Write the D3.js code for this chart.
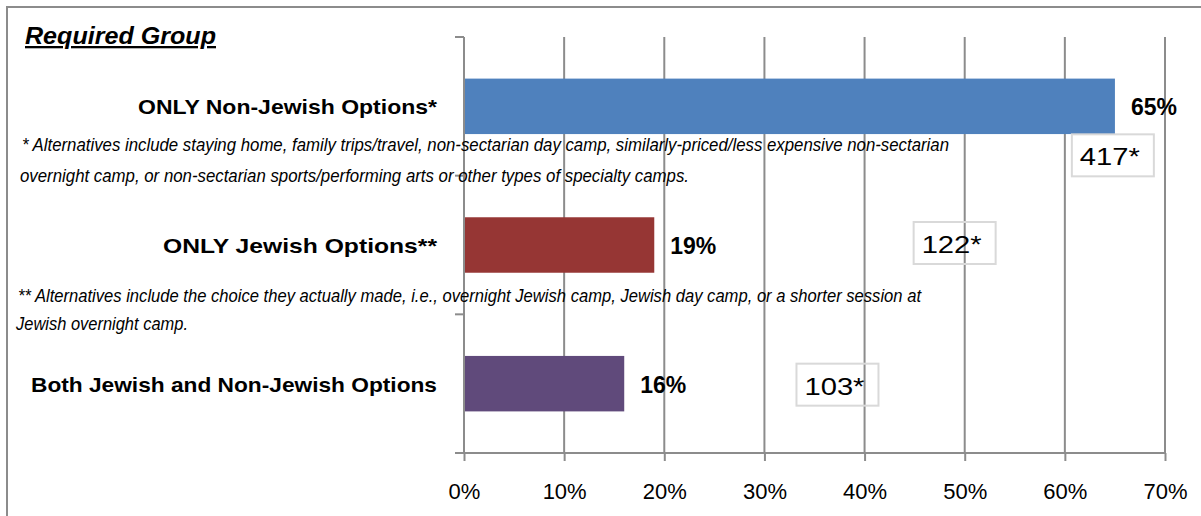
<!DOCTYPE html>
<html>
<head>
<meta charset="utf-8">
<script src="https://cdn.jsdelivr.net/npm/d3@7"></script>
<style>
  html, body { margin: 0; padding: 0; background: #fff; }
  svg { display: block; }
</style>
</head>
<body>
<svg id="chart" width="1201" height="516"></svg>
<script>
const categories = ["ONLY Non-Jewish Options*", "ONLY Jewish Options**", "Both Jewish and Non-Jewish Options"];
const values = [65, 19, 16];
const counts = ["417*", "122*", "103*"];
const barColors = ["#4F81BD", "#963634", "#604A7B"];
const xTicks = [0, 10, 20, 30, 40, 50, 60, 70];
const title = "Required Group";
const footnote1 = ["* Alternatives include staying home, family trips/travel, non-sectarian day camp, similarly-priced/less expensive non-sectarian",
                   "overnight camp, or non-sectarian sports/performing arts or other types of specialty camps."];
const footnote2 = ["** Alternatives include the choice they actually made, i.e., overnight Jewish camp, Jewish day camp, or a shorter session at",
                   "Jewish overnight camp."];
// count box x positions (in % units on the value axis) as placed in the reference
const countBoxAt = [60.7, 44.9, 33.2];

(function () {
const svg = d3.select("#chart");
const font = "'Liberation Sans', Arial, sans-serif";

// outer frame
svg.append("path").attr("d", "M7,520 L7,7 L1210,7").attr("fill", "none")
  .attr("stroke", "#8c8c8c").attr("stroke-width", 2);

const pLeft = 464, pRight = 1165, pTop = 37, pBottom = 453;
const x = d3.scaleLinear().domain([0, 70]).range([pLeft, pRight]);
const y = d3.scaleBand().domain(categories).range([pTop, pBottom]).paddingInner(0.6).paddingOuter(0.3);
const yb = d3.scaleBand().domain(categories).range([pTop, pBottom]);

// gridlines
svg.append("g").selectAll("line").data(xTicks.filter(d => d > 0)).join("line")
  .attr("x1", d => x(d)).attr("x2", d => x(d)).attr("y1", pTop).attr("y2", pBottom)
  .attr("stroke", "#8c8c8c").attr("stroke-width", 2);

// x axis
const xAxis = svg.append("g").attr("transform", `translate(0,${pBottom})`)
  .call(d3.axisBottom(x).tickValues(xTicks).tickFormat(d => d + "%").tickSize(8).tickPadding(22).tickSizeOuter(0));
xAxis.select(".domain").attr("stroke", "#8c8c8c").attr("stroke-width", 2).attr("d", `M${pLeft - 9},0H${pRight}`);
xAxis.selectAll(".tick line").attr("stroke", "#8c8c8c").attr("stroke-width", 2);
xAxis.selectAll(".tick text").attr("font-family", font).attr("font-size", 22).attr("fill", "#000");

// y axis line and ticks at band boundaries
svg.append("line").attr("x1", pLeft).attr("x2", pLeft).attr("y1", pTop).attr("y2", pBottom)
  .attr("stroke", "#8c8c8c").attr("stroke-width", 2);
const bounds = categories.map(c => yb(c));
svg.append("g").selectAll("line").data(bounds).join("line")
  .attr("x1", pLeft - 9).attr("x2", pLeft).attr("y1", d => d).attr("y2", d => d)
  .attr("stroke", "#8c8c8c").attr("stroke-width", 2);

// bars
svg.append("g").selectAll("rect").data(values).join("rect")
  .attr("x", x(0) + 1).attr("y", (d, i) => y(categories[i]))
  .attr("width", d => x(d) - x(0) - 1).attr("height", y.bandwidth())
  .attr("fill", (d, i) => barColors[i]);

// value labels
svg.append("g").selectAll("text").data(values).join("text")
  .attr("x", d => x(d) + 16).attr("y", (d, i) => y(categories[i]) + y.bandwidth() / 2 + 9)
  .attr("font-family", font).attr("font-weight", "bold").attr("font-size", 23).attr("fill", "#000")
  .text(d => d + "%");

// category labels
const catWidths = [299, 274, 406];
svg.append("g").selectAll("text").data(categories).join("text")
  .attr("x", 437).attr("y", d => y(d) + y.bandwidth() / 2 + 8)
  .attr("text-anchor", "end")
  .attr("font-family", font).attr("font-weight", "bold").attr("font-size", 21).attr("fill", "#000")
  .attr("textLength", (d, i) => catWidths[i]).attr("lengthAdjust", "spacingAndGlyphs")
  .text(d => d);

// count boxes
const boxTops = [28, -23, -20];
const cg = svg.append("g").selectAll("g").data(counts).join("g")
  .attr("transform", (d, i) => `translate(${x(countBoxAt[i])},${y(categories[i]) + y.bandwidth() / 2 + boxTops[i]})`);
cg.append("rect").attr("width", 82).attr("height", 42).attr("fill", "none")
  .attr("stroke", "#d9d9d9").attr("stroke-width", 2);
cg.append("text").attr("x", 8).attr("y", 31)
  .attr("font-family", font).attr("font-size", 23).attr("fill", "#000")
  .attr("textLength", 60).attr("lengthAdjust", "spacingAndGlyphs").text(d => d);

// title
svg.append("text").attr("x", 25).attr("y", 44)
  .attr("font-family", font).attr("font-weight", "bold").attr("font-style", "italic")
  .attr("font-size", 23).attr("text-decoration", "underline").attr("fill", "#000")
  .attr("textLength", 191).attr("lengthAdjust", "spacingAndGlyphs")
  .text(title);

// footnotes
const fn = [
  { t: footnote1[0], x: 22, y: 151, w: 927 },
  { t: footnote1[1], x: 20, y: 182, w: 669 },
  { t: footnote2[0], x: 18, y: 302, w: 903 },
  { t: footnote2[1], x: 16, y: 330, w: 172 }
];
svg.append("g").selectAll("text").data(fn).join("text")
  .attr("font-family", font).attr("font-style", "italic")
  .attr("font-size", 19).attr("fill", "#000").attr("lengthAdjust", "spacingAndGlyphs")
  .attr("x", d => d.x).attr("y", d => d.y).attr("textLength", d => d.w)
  .text(d => d.t);
})();
</script>
</body>
</html>
